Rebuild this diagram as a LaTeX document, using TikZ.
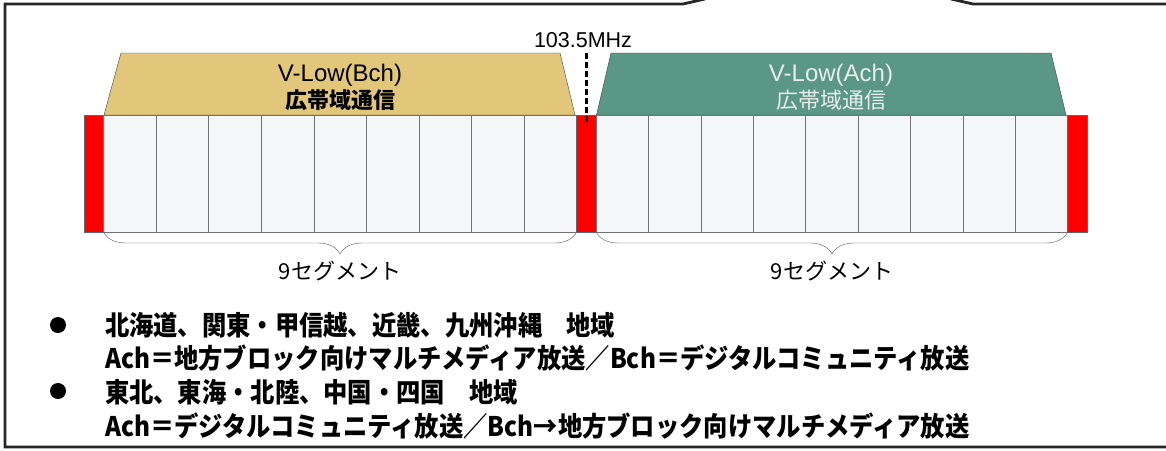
\documentclass[tikz,border=0pt]{standalone}
\usepackage{fontspec}
\setmainfont{Liberation Sans}
\newfontfamily\jpfont{Noto Sans CJK JP}
\newfontfamily\jpnarrow[FakeStretch=0.9]{Noto Sans CJK JP}
\usetikzlibrary{positioning,decorations.pathreplacing}
\definecolor{bchfill}{HTML}{E2C77B}
\definecolor{achfill}{HTML}{5A9784}
\definecolor{segfill}{HTML}{F5F6F8}
\definecolor{achtext}{HTML}{E8EEEC}
\definecolor{framegray}{HTML}{262626}

\begin{document}
\begin{tikzpicture}[x=1pt,y=-1pt,semithick,node distance=0pt,
  every node/.style={inner sep=0pt,outer sep=0pt},
  segL/.style={draw=black!55,fill=segfill,minimum width=52.55pt,minimum height=117pt},
  segR/.style={segL,minimum width=52.4pt},
  guard/.style={draw=black!60,fill=red,minimum width=19.6pt,minimum height=117pt},
  band/.style={draw=black!75,thin},
  bandtext/.style={align=center,font=\fontsize{24}{27}\selectfont},
  segbrace/.style={draw=black!65,thin,decorate,decoration={brace,mirror,amplitude=22pt}},
  seglabel/.style={font=\jpfont\fontsize{22}{26}\selectfont},
  note/.style={anchor=base west,font=\jpnarrow\bfseries\fontsize{27}{30}\selectfont},
  dot/.style={circle,fill=black,minimum size=16pt}]
%\tikzstyle{every node}=[draw=red]
\useasboundingbox (0,0) rectangle (1166,450);
\clip (0,0) rectangle (1166,450);

% frame
\draw[framegray,line width=2.8pt] (1175,447) -- (5,447) -- (5,4) -- (683,4) -- (705,-1);
\draw[framegray,line width=2.8pt] (951,-1) -- (973,4) -- (1175,4);

\draw[band,fill=bchfill] (104,115) -- (121,53) -- (560,53) -- (575,115) -- cycle;
\draw[band,fill=achfill] (596.5,115) -- (611,53) -- (1051,53) -- (1066,115) -- cycle;

\node[guard,anchor=north west] (gL) at (84,115) {};
\node[segL,right=of gL] (b1) {};
\foreach \i [remember=\i as \j (initially 1)] in {2,...,9}
  \node[segL,right=of b\j] (b\i) {};
\node[guard,right=of b9] (gM) {};
\node[segR,right=of gM] (a1) {};
\foreach \i [remember=\i as \j (initially 1)] in {2,...,9}
  \node[segR,right=of a\j] (a\i) {};
\node[guard,right=of a9] (gR) {};

\node[bandtext] (bch) at (340,87) {V-Low(Bch)\\{\jpfont\bfseries\fontsize{22}{27}\selectfont 広帯域通信}};
\node[bandtext,text=achtext] (ach) at (831,87) {V-Low(Ach)\\{\jpfont\fontsize{22}{27}\selectfont 広帯域通信}};

\node[font=\fontsize{21.5}{24}\selectfont] (freq) at (583,40) {103.5MHz};
\draw[line width=2.4pt,dash pattern=on 6pt off 3pt] ([yshift=62pt]gM.north) -- ([yshift=-7pt]gM.north);

\draw[segbrace] (b1.south west) -- (b9.south east);
\draw[segbrace] (a1.south west) -- (a9.south east);
\node[seglabel] (bseg) at ([yshift=-39pt]b5.south) {9セグメント};
\node[seglabel] (aseg) at ([yshift=-39pt]a5.south) {9セグメント};

\node[dot] (d1) at (58,325) {};
\node[note] (n1) at (105,335) {北海道、関東・甲信越、近畿、九州沖縄　地域};
\node[note] (n2) at (105,368) {Ach＝地方ブロック向けマルチメディア放送／Bch＝デジタルコミュニティ放送};
\node[dot] (d2) at (58,391) {};
\node[note] (n3) at (105,402) {東北、東海・北陸、中国・四国　地域};
\node[note] (n4) at (105,436) {Ach＝デジタルコミュニティ放送／Bch→地方ブロック向けマルチメディア放送};
\end{tikzpicture}
\end{document}
